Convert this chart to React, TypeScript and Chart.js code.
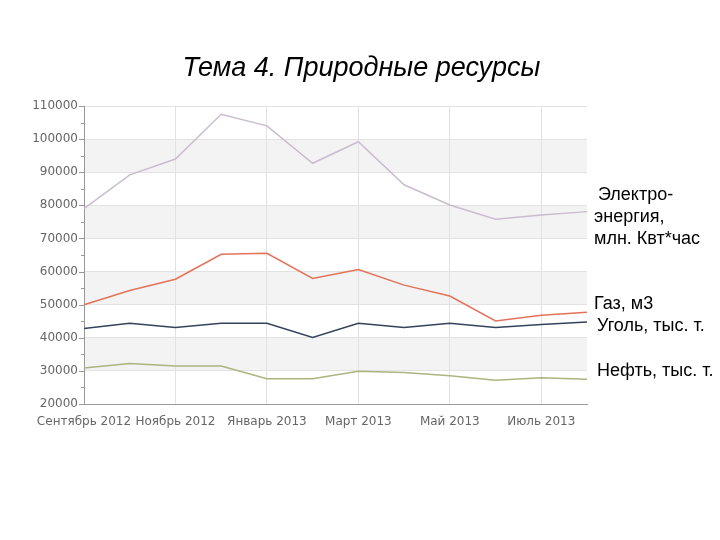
import React, { useEffect, useRef } from "react";
import { Chart, registerables } from "chart.js";

Chart.register(...registerables);

const months = [
  "Сентябрь 2012", "Октябрь 2012", "Ноябрь 2012", "Декабрь 2012",
  "Январь 2013", "Февраль 2013", "Март 2013", "Апрель 2013",
  "Май 2013", "Июнь 2013", "Июль 2013", "Август 2013",
];
const electro = [79000, 89200, 94000, 107500, 104000, 92700, 99200, 86200, 80100, 75800, 77100, 78100];
const gas = [50000, 54300, 57700, 65200, 65500, 57900, 60600, 55900, 52600, 45100, 46800, 47700];
const coal = [42800, 44400, 43100, 44400, 44400, 40100, 44400, 43100, 44400, 43100, 44000, 44800];
const oil = [30900, 32200, 31500, 31500, 27600, 27600, 29900, 29500, 28500, 27200, 27900, 27500];

const yMin = 20000;
const yMax = 110000;
const yStep = 10000;
const bands = [[90000, 100000], [70000, 80000], [50000, 60000], [30000, 40000]];

const title = "Тема 4. Природные ресурсы";
const sideLabels = [
  { text: "Электро-", x: 598, base: 200 },
  { text: "энергия,", x: 594, base: 222 },
  { text: "млн. Квт*час", x: 594, base: 244 },
  { text: "Газ, м3", x: 594, base: 309 },
  { text: "Уголь, тыс. т.", x: 597, base: 331 },
  { text: "Нефть, тыс. т.", x: 597, base: 376 },
];

const bandPlugin = {
  id: "bands",
  beforeDraw(chart: any) {
    const { ctx, chartArea } = chart;
    const y = chart.scales.y;
    ctx.save();
    ctx.fillStyle = "#f3f3f3";
    for (const [a, b] of bands) {
      const y1 = y.getPixelForValue(b);
      const y2 = y.getPixelForValue(a);
      ctx.fillRect(chartArea.left, y1, chartArea.right - chartArea.left, y2 - y1);
    }
    ctx.restore();
  },
  afterDraw(chart: any) {
    const { ctx, chartArea } = chart;
    const y = chart.scales.y;
    ctx.save();
    ctx.strokeStyle = "#999";
    ctx.lineWidth = 1;
    for (let v = yMin; v <= yMax; v += yStep / 2) {
      const py = Math.round(y.getPixelForValue(v)) + 0.5;
      const len = v % yStep === 0 ? 5 : 3;
      ctx.beginPath();
      ctx.moveTo(chartArea.left - len, py);
      ctx.lineTo(chartArea.left, py);
      ctx.stroke();
    }
    ctx.restore();
  },
};

export default function App() {
  const ref = useRef<HTMLCanvasElement>(null);
  useEffect(() => {
    if (!ref.current) return;
    const mk = (label: string, data: number[], color: string) => ({
      label, data, borderColor: color, backgroundColor: color,
      borderWidth: 1.5, pointRadius: 0, tension: 0, fill: false,
    });
    const chart = new Chart(ref.current, {
      type: "line",
      data: {
        labels: months,
        datasets: [
          mk("Электроэнергия", electro, "#cbbcd0"),
          mk("Газ", gas, "#e2735a"),
          mk("Уголь", coal, "#34435a"),
          mk("Нефть", oil, "#aab580"),
        ],
      },
      options: {
        animation: false,
        responsive: false,
        devicePixelRatio: 1,
        layout: { padding: { left: 30, right: 133, top: 106, bottom: 106 } },
        plugins: { legend: { display: false }, tooltip: { enabled: false }, title: { display: false } },
        scales: {
          x: {
            type: "category",
            offset: false,
            afterFit: (s: any) => { s.height = 30; },
            grid: {
              drawTicks: false,
              color: (c: any) => (c.index > 0 && c.index < months.length - 1 && c.index % 2 === 0 ? "#e2e2e2" : "rgba(0,0,0,0)"),
            },
            border: { display: true, color: "#999", width: 1 },
            ticks: {
              autoSkip: false,
              maxRotation: 0,
              minRotation: 0,
              padding: 11,
              color: "#666",
              font: { family: "DejaVu Sans", size: 12 },
              callback: (_v: any, i: number) => (i % 2 === 0 ? months[i] : ""),
            },
          },
          y: {
            min: yMin,
            max: yMax,
            afterFit: (s: any) => { s.width = 54; },
            grid: { drawTicks: false, color: "#e2e2e2" },
            border: { display: true, color: "#999", width: 1 },
            ticks: {
              stepSize: yStep,
              padding: 6,
              color: "#666",
              font: { family: "DejaVu Sans", size: 12 },
              callback: (v: any) => String(v),
            },
          },
        },
      },
      plugins: [bandPlugin],
    });
    return () => chart.destroy();
  }, []);

  const textFont = "'Liberation Sans', Arial, sans-serif";
  return (
    <div style={{ position: "absolute", left: 0, top: 0, width: 720, height: 540, background: "#fff" }}>
      <canvas ref={ref} width={720} height={540} style={{ position: "absolute", left: 0, top: 0 }} />
      <div
        style={{
          position: "absolute", left: 0, width: 723, top: 54, textAlign: "center",
          fontFamily: textFont, fontStyle: "italic", fontSize: 27, lineHeight: "27px", color: "#000",
          whiteSpace: "nowrap",
        }}
      >
        {title}
      </div>
      {sideLabels.map((l, i) => (
        <div
          key={i}
          style={{
            position: "absolute", left: l.x, top: l.base - 15, fontFamily: textFont,
            fontSize: 18, lineHeight: "18px", color: "#000", whiteSpace: "nowrap",
          }}
        >
          {l.text}
        </div>
      ))}
    </div>
  );
}
